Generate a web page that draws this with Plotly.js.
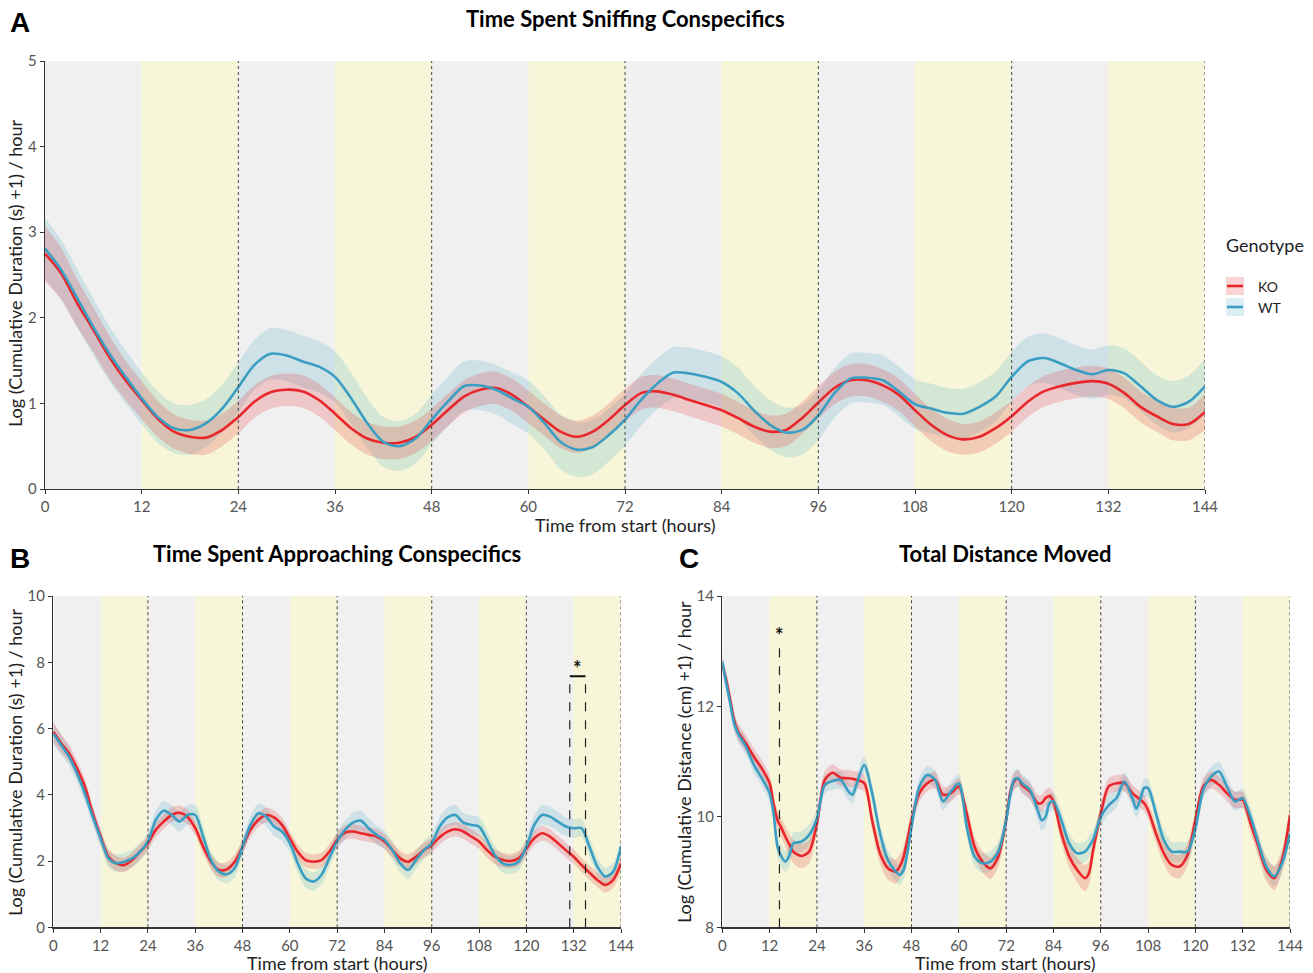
<!DOCTYPE html>
<html>
<head>
<meta charset="utf-8">
<script src="https://cdn.plot.ly/plotly-3.0.1.min.js"></script>
<style>html,body{margin:0;padding:0;background:#fff}#chart{width:1313px;height:973px}</style>
</head>
<body>
<div id="chart"></div>
<script>
// ---------------- DATA ----------------
const hours2 = [0,2,4,6,8,10,12,14,16,18,20,22,24,26,28,30,32,34,36,38,40,42,44,46,48,50,52,54,56,58,60,62,64,66,68,70,72,74,76,78,80,82,84,86,88,90,92,94,96,98,100,102,104,106,108,110,112,114,116,118,120,122,124,126,128,130,132,134,136,138,140,142,144];

// Panel A: Time Spent Sniffing Conspecifics
const sniffKO = [2.75,2.52,2.17,1.86,1.54,1.27,1.04,0.82,0.67,0.61,0.60,0.69,0.84,1.02,1.13,1.16,1.14,1.04,0.88,0.71,0.59,0.54,0.54,0.61,0.75,0.92,1.08,1.16,1.18,1.10,0.96,0.81,0.67,0.61,0.67,0.81,0.98,1.12,1.14,1.10,1.04,0.98,0.92,0.83,0.73,0.67,0.69,0.83,1.01,1.18,1.27,1.27,1.21,1.10,0.92,0.75,0.63,0.58,0.61,0.71,0.85,1.02,1.14,1.20,1.24,1.26,1.23,1.12,0.96,0.85,0.76,0.76,0.90];
const sniffWT = [2.81,2.56,2.23,1.89,1.58,1.31,1.06,0.84,0.71,0.69,0.77,0.94,1.19,1.45,1.58,1.56,1.49,1.43,1.31,1.06,0.77,0.55,0.50,0.59,0.81,1.02,1.20,1.21,1.16,1.06,0.96,0.77,0.55,0.46,0.49,0.63,0.81,1.04,1.23,1.36,1.35,1.31,1.25,1.12,0.92,0.75,0.66,0.69,0.86,1.12,1.29,1.30,1.27,1.14,0.99,0.94,0.89,0.88,0.96,1.08,1.31,1.49,1.53,1.47,1.39,1.34,1.39,1.35,1.20,1.04,0.96,1.02,1.20];
const sniffKOci = [0.32,0.30,0.28,0.26,0.25,0.23,0.22,0.21,0.20,0.20,0.20,0.19,0.19,0.19,0.19,0.19,0.19,0.19,0.19,0.19,0.19,0.19,0.19,0.19,0.19,0.19,0.19,0.19,0.19,0.19,0.19,0.19,0.19,0.19,0.19,0.19,0.19,0.19,0.19,0.19,0.19,0.19,0.19,0.19,0.19,0.19,0.19,0.19,0.19,0.19,0.19,0.19,0.19,0.19,0.19,0.19,0.19,0.18,0.18,0.18,0.18,0.18,0.18,0.18,0.18,0.18,0.18,0.18,0.18,0.18,0.19,0.19,0.21];
const sniffWTci = [0.36,0.35,0.34,0.33,0.32,0.31,0.30,0.30,0.29,0.29,0.28,0.28,0.29,0.29,0.30,0.30,0.30,0.30,0.30,0.30,0.29,0.29,0.29,0.29,0.29,0.29,0.29,0.29,0.29,0.30,0.31,0.31,0.32,0.32,0.32,0.31,0.30,0.30,0.30,0.30,0.30,0.30,0.30,0.30,0.29,0.29,0.29,0.29,0.29,0.29,0.29,0.29,0.29,0.29,0.29,0.29,0.29,0.29,0.29,0.29,0.29,0.29,0.29,0.29,0.29,0.29,0.29,0.29,0.29,0.29,0.30,0.31,0.32];

// Panel B: Time Spent Approaching Conspecifics
const approachKO = [5.90,5.55,5.25,4.80,4.25,3.44,2.74,2.13,1.93,1.88,2.03,2.28,2.54,2.94,3.19,3.39,3.46,3.34,2.99,2.43,1.98,1.73,1.75,1.98,2.43,2.94,3.24,3.39,3.32,3.09,2.69,2.28,2.03,1.98,2.03,2.28,2.64,2.86,2.89,2.84,2.79,2.74,2.59,2.33,2.08,1.98,2.13,2.33,2.48,2.72,2.89,2.96,2.89,2.74,2.59,2.33,2.13,2.03,2.00,2.08,2.38,2.69,2.84,2.74,2.54,2.33,2.13,1.88,1.65,1.43,1.28,1.43,1.93];
const approachWT = [5.85,5.50,5.15,4.65,4.04,3.34,2.69,2.08,1.93,1.98,2.08,2.28,2.59,3.24,3.52,3.39,3.19,3.39,3.39,2.74,2.03,1.68,1.60,1.78,2.43,3.09,3.44,3.34,3.04,2.89,2.54,1.93,1.48,1.38,1.58,2.08,2.60,2.94,3.16,3.22,2.99,2.79,2.64,2.33,1.93,1.73,2.03,2.33,2.54,3.04,3.32,3.39,3.16,3.09,3.04,2.64,2.18,1.93,1.88,1.98,2.43,3.09,3.39,3.34,3.19,3.04,2.99,2.99,2.43,1.83,1.53,1.68,2.43];
const approachKOci = [0.30,0.28,0.26,0.25,0.24,0.23,0.22,0.22,0.22,0.22,0.22,0.22,0.22,0.22,0.22,0.22,0.22,0.22,0.22,0.22,0.22,0.22,0.22,0.22,0.22,0.22,0.22,0.22,0.22,0.22,0.22,0.22,0.22,0.22,0.22,0.22,0.22,0.22,0.22,0.22,0.22,0.22,0.22,0.22,0.22,0.22,0.22,0.22,0.22,0.22,0.22,0.22,0.22,0.22,0.22,0.22,0.22,0.22,0.22,0.22,0.22,0.22,0.22,0.22,0.22,0.22,0.22,0.22,0.22,0.22,0.23,0.24,0.26];
const approachWTci = [0.32,0.30,0.28,0.27,0.26,0.26,0.26,0.27,0.27,0.27,0.27,0.27,0.28,0.29,0.30,0.30,0.30,0.30,0.30,0.28,0.27,0.27,0.27,0.27,0.27,0.28,0.29,0.29,0.28,0.28,0.28,0.28,0.28,0.28,0.28,0.28,0.28,0.28,0.29,0.30,0.29,0.28,0.28,0.27,0.27,0.27,0.27,0.27,0.28,0.29,0.30,0.30,0.29,0.29,0.29,0.28,0.27,0.27,0.27,0.27,0.28,0.29,0.30,0.30,0.29,0.28,0.28,0.28,0.28,0.27,0.27,0.27,0.28];

// Panel C: Total Distance Moved
const hoursC = [0,1,2,3,4,6,8,10,12,13,14,15,16,17,18,20,22,24,26,28,30,32,33,34,36,38,40,42,44,45,46,48,50,52,54,56,58,60,62,64,66,68,70,72,73,74,75,76,78,80,81,82,83,84,86,88,90,92,93,94,96,98,100,102,104,105,106,107,108,110,112,114,116,118,120,122,124,126,128,130,131,132,134,136,138,140,142,144];
const distKO = [12.75,12.48,12.12,11.75,11.54,11.33,11.09,10.88,10.61,10.24,9.94,9.80,9.64,9.50,9.37,9.29,9.37,9.88,10.67,10.80,10.71,10.70,10.69,10.67,10.61,9.94,9.34,9.07,9.01,9.10,9.28,9.94,10.43,10.61,10.67,10.40,10.43,10.55,10.06,9.46,9.19,9.07,9.28,9.94,10.43,10.64,10.70,10.58,10.46,10.25,10.25,10.34,10.38,10.28,9.70,9.28,9.04,8.89,8.98,9.37,10.06,10.55,10.61,10.61,10.43,10.37,10.31,10.25,10.12,9.70,9.34,9.13,9.10,9.31,9.94,10.55,10.67,10.58,10.43,10.31,10.31,10.31,9.88,9.46,9.04,8.89,9.22,10.03];
const distWT = [12.81,12.42,12.06,11.69,11.51,11.27,10.94,10.70,10.43,10.06,9.46,9.28,9.19,9.30,9.52,9.55,9.67,9.97,10.58,10.65,10.67,10.46,10.40,10.58,10.94,10.43,9.70,9.22,9.01,8.95,9.04,9.82,10.55,10.76,10.67,10.28,10.46,10.61,9.82,9.28,9.16,9.19,9.37,9.94,10.37,10.67,10.70,10.61,10.49,10.12,9.94,10.00,10.25,10.28,9.94,9.52,9.34,9.37,9.46,9.58,10.00,10.21,10.34,10.64,10.34,10.15,10.31,10.52,10.52,10.06,9.58,9.37,9.37,9.37,9.79,10.49,10.73,10.82,10.55,10.28,10.31,10.34,10.00,9.52,9.10,8.92,9.16,9.70];
const distKOci = [0.15,0.15,0.15,0.15,0.15,0.15,0.15,0.15,0.15,0.16,0.17,0.18,0.19,0.20,0.21,0.22,0.21,0.18,0.16,0.15,0.15,0.15,0.15,0.15,0.15,0.17,0.19,0.21,0.22,0.21,0.19,0.17,0.15,0.15,0.15,0.15,0.15,0.15,0.16,0.18,0.19,0.20,0.19,0.17,0.15,0.15,0.15,0.15,0.15,0.15,0.15,0.15,0.15,0.15,0.17,0.20,0.22,0.24,0.22,0.19,0.17,0.15,0.15,0.15,0.15,0.15,0.15,0.15,0.15,0.17,0.19,0.21,0.21,0.20,0.17,0.15,0.15,0.15,0.15,0.15,0.15,0.15,0.17,0.19,0.21,0.22,0.20,0.18];
const distWTci = [0.15,0.15,0.15,0.15,0.15,0.15,0.15,0.15,0.16,0.17,0.18,0.19,0.19,0.19,0.19,0.19,0.19,0.18,0.16,0.16,0.16,0.16,0.16,0.16,0.16,0.17,0.18,0.18,0.18,0.18,0.18,0.17,0.16,0.16,0.16,0.16,0.16,0.16,0.17,0.18,0.18,0.18,0.18,0.17,0.16,0.16,0.16,0.16,0.16,0.17,0.18,0.18,0.17,0.16,0.17,0.18,0.19,0.19,0.19,0.18,0.17,0.17,0.17,0.17,0.17,0.17,0.17,0.17,0.17,0.17,0.18,0.18,0.18,0.18,0.17,0.17,0.18,0.18,0.17,0.17,0.17,0.17,0.17,0.18,0.18,0.18,0.18,0.18];

// significance markers
const sigB = {start: 131, end: 135, level: 7.58};
const sigC = {at: 14.5, level: 13.15};

// light/dark phases and day boundaries
const darkPhases = [[12,24],[36,48],[60,72],[84,96],[108,120],[132,144]];
const dayBounds = [24,48,72,96,120,144];
const xTicks = [0,12,24,36,48,60,72,84,96,108,120,132,144];

const genotypes = ['KO','WT'];
const COL = {KO:'#e8262b', WT:'#3a9ec2'};
const FILL = {KO:'rgba(232,38,43,0.20)', WT:'rgba(58,158,194,0.18)'};

// ---------------- BUILD ----------------
const FONT = 'Lato, "Open Sans", sans-serif';
const traces = [];
function addPanel(xa, ya, x, ko, wt, koci, wtci) {
  const series = {KO:[ko,koci], WT:[wt,wtci]};
  ['WT','KO'].forEach(g => {
    const m = series[g][0], c = series[g][1];
    traces.push({x:x, y:m.map((v,i)=>v-c[i]), xaxis:xa, yaxis:ya, mode:'lines',
      line:{width:0, color:'rgba(0,0,0,0)', shape:'spline', smoothing:0.8}, showlegend:false, hoverinfo:'skip'});
    traces.push({x:x, y:m.map((v,i)=>v+c[i]), xaxis:xa, yaxis:ya, mode:'lines', fill:'tonexty',
      fillcolor:FILL[g], line:{width:0, color:'rgba(0,0,0,0)', shape:'spline', smoothing:0.8}, showlegend:false, hoverinfo:'skip'});
  });
  ['KO','WT'].forEach(g => {
    traces.push({x:x, y:series[g][0], xaxis:xa, yaxis:ya, mode:'lines', name:g,
      line:{width:2.6, color:COL[g], shape:'spline', smoothing:0.8}, showlegend:false});
  });
}
addPanel('x','y',hours2,sniffKO,sniffWT,sniffKOci,sniffWTci);
addPanel('x2','y2',hours2,approachKO,approachWT,approachKOci,approachWTci);
addPanel('x3','y3',hoursC,distKO,distWT,distKOci,distWTci);

const shapes = [];
[['x','y'],['x2','y2'],['x3','y3']].forEach(([xa,ya]) => {
  shapes.push({type:'rect', xref:xa, yref:ya+' domain', x0:0, x1:144, y0:0, y1:1, fillcolor:'#f0f0f0', line:{width:0}, layer:'below'});
  darkPhases.forEach(p => shapes.push({type:'rect', xref:xa, yref:ya+' domain', x0:p[0], x1:p[1], y0:0, y1:1, fillcolor:'#f7f6d8', line:{width:0}, layer:'below'}));
  dayBounds.forEach(d => shapes.push({type:'line', xref:xa, yref:ya+' domain', x0:d, x1:d, y0:0, y1:1, line:{color:'#444', width:1, dash:'dot'}, layer:'above'}));
});
// significance bracket in B
shapes.push({type:'line', xref:'x2', yref:'y2', x0:sigB.start, x1:sigB.start, y0:0, y1:sigB.level, line:{color:'#222', width:1.2, dash:'dash'}});
shapes.push({type:'line', xref:'x2', yref:'y2', x0:sigB.end, x1:sigB.end, y0:0, y1:sigB.level, line:{color:'#222', width:1.2, dash:'dash'}});
shapes.push({type:'line', xref:'x2', yref:'y2', x0:sigB.start, x1:sigB.end, y0:sigB.level, y1:sigB.level, line:{color:'#111', width:2}});
// significance line in C
shapes.push({type:'line', xref:'x3', yref:'y3', x0:sigC.at, x1:sigC.at, y0:8, y1:sigC.level, line:{color:'#222', width:1.2, dash:'dash'}});

// custom legend (panel A)
const legX0 = 1226/1313, legX1 = 1244/1313;
genotypes.forEach((g,i) => {
  const yTop = 1 - (277 + i*21)/973, yBot = 1 - (295 + i*21)/973;
  shapes.push({type:'rect', xref:'paper', yref:'paper', x0:legX0, x1:legX1, y0:yBot, y1:yTop, fillcolor:FILL[g], line:{width:0}});
  shapes.push({type:'line', xref:'paper', yref:'paper', x0:legX0+1/1313, x1:legX1-1/1313, y0:(yTop+yBot)/2, y1:(yTop+yBot)/2, line:{color:COL[g], width:2.6}});
});

function px(xp){return xp/1313;} function py(yp){return 1-yp/973;}
const LETTER = {family:'"Liberation Sans", Arial, sans-serif', size:28, color:'#000'};
const TITLE = {family:FONT, size:22, color:'#000'};
const AXT = {family:FONT, size:18, color:'#222'};
const annotations = [
  {text:'<b>A</b>', x:px(8), y:py(22), xanchor:'left', yanchor:'middle', font:LETTER},
  {text:'<b>B</b>', x:px(8), y:py(558), xanchor:'left', yanchor:'middle', font:LETTER},
  {text:'<b>C</b>', x:px(677), y:py(558), xanchor:'left', yanchor:'middle', font:LETTER},
  {text:'<b>Time Spent Sniffing Conspecifics</b>', x:px(625), y:py(18), xanchor:'center', yanchor:'middle', font:TITLE},
  {text:'<b>Time Spent Approaching Conspecifics</b>', x:px(337), y:py(553), xanchor:'center', yanchor:'middle', font:TITLE},
  {text:'<b>Total Distance Moved</b>', x:px(1005), y:py(553), xanchor:'center', yanchor:'middle', font:TITLE},
  {text:'Time from start (hours)', x:px(625), y:py(525), xanchor:'center', yanchor:'middle', font:AXT},
  {text:'Time from start (hours)', x:px(337), y:py(963), xanchor:'center', yanchor:'middle', font:AXT},
  {text:'Time from start (hours)', x:px(1005), y:py(963), xanchor:'center', yanchor:'middle', font:AXT},
  {text:'Log (Cumulative Duration (s) +1) / hour', x:px(15), y:py(273), textangle:-90, xanchor:'center', yanchor:'middle', font:AXT},
  {text:'Log (Cumulative Duration (s) +1) / hour', x:px(15), y:py(762), textangle:-90, xanchor:'center', yanchor:'middle', font:AXT},
  {text:'Log (Cumulative Distance (cm) +1) / hour', x:px(684), y:py(762), textangle:-90, xanchor:'center', yanchor:'middle', font:AXT},
  {text:'Genotype', x:px(1224), y:py(245), xanchor:'left', yanchor:'middle', font:{family:FONT, size:18, color:'#222'}},
  {text:'KO', x:px(1256), y:py(286), xanchor:'left', yanchor:'middle', font:{family:FONT, size:14, color:'#222'}},
  {text:'WT', x:px(1256), y:py(307), xanchor:'left', yanchor:'middle', font:{family:FONT, size:14, color:'#222'}},
  {text:'<b>*</b>', xref:'x2', yref:'y2', x:(sigB.start+sigB.end)/2, y:sigB.level, xanchor:'center', yanchor:'bottom', yshift:-6, showarrow:false, font:{family:FONT, size:20, color:'#111'}},
  {text:'<b>*</b>', xref:'x3', yref:'y3', x:sigC.at, y:sigC.level, xanchor:'center', yanchor:'bottom', yshift:-6, showarrow:false, font:{family:FONT, size:20, color:'#111'}}
].map(a => Object.assign({xref:'paper', yref:'paper', showarrow:false}, a));

function xaxis(domain, anchor){
  return {domain:domain, anchor:anchor, range:[0,144], tickvals:xTicks, ticks:'outside', ticklen:4, tickcolor:'#333',
    showline:true, linecolor:'#333', linewidth:1.3, showgrid:false, zeroline:false, automargin:false,
    tickfont:{family:FONT, size:15, color:'#555'}, fixedrange:true};
}
function yaxis(domain, anchor, range, dtick){
  return {domain:domain, anchor:anchor, range:range, dtick:dtick, tick0:range[0], ticks:'outside', ticklen:4, tickcolor:'#333',
    showline:true, linecolor:'#333', linewidth:1.3, showgrid:false, zeroline:false, automargin:false,
    tickfont:{family:FONT, size:15, color:'#555'}, fixedrange:true};
}
const layout = {
  width:1313, height:973, margin:{l:0,r:0,t:0,b:0}, paper_bgcolor:'#fff', plot_bgcolor:'rgba(0,0,0,0)',
  showlegend:false, font:{family:FONT},
  xaxis: xaxis([45/1313, 1205/1313], 'y'),
  yaxis: yaxis([1-489/973, 1-61/973], 'x', [0,5], 1),
  xaxis2: xaxis([53.3/1313, 621/1313], 'y2'),
  yaxis2: yaxis([1-927.3/973, 1-596/973], 'x2', [0,10], 2),
  xaxis3: xaxis([722.3/1313, 1290/1313], 'y3'),
  yaxis3: yaxis([1-927.3/973, 1-596/973], 'x3', [8,14], 2),
  shapes: shapes, annotations: annotations
};
Plotly.newPlot('chart', traces, layout, {displayModeBar:false, staticPlot:true});
</script>
</body>
</html>
